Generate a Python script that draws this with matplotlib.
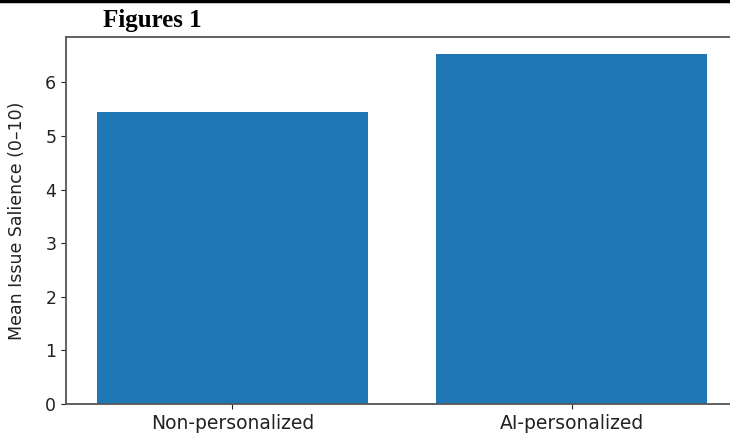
import matplotlib
matplotlib.use('Agg')
from matplotlib import pyplot as plt
from matplotlib.lines import Line2D

groups = ['Non-personalized', 'AI-personalized']
means  = [5.44, 6.52]

fig = plt.figure(figsize=(7.30, 4.40), dpi=100)
ax  = fig.add_axes([66/730, 1-404/440, 672/730, 367/440])

ax.bar(groups, means, width=0.8, color='#1f77b4')
ax.set_ylabel('Mean Issue Salience (0\u201310)', fontsize=12.5, color='#222222')
ax.yaxis.set_label_coords(-40/672, 0.5)
ax.tick_params(axis='x', labelsize=13.5, colors='#222222')
ax.tick_params(axis='y', labelsize=12.5, colors='#222222')
for s in ax.spines.values():
    s.set_color('#555555')
    s.set_linewidth(1.3)

# heading and rule above the plot
fig.text(103/730, 1-21/440, 'Figures 1', family='Liberation Serif',
         fontweight='bold', fontsize=18, va='center', ha='left')
fig.add_artist(Line2D([0, 1], [1-1.5/440, 1-1.5/440], color='black', lw=2.5,
                      transform=fig.transFigure))

fig.savefig('out.png', dpi=100)
